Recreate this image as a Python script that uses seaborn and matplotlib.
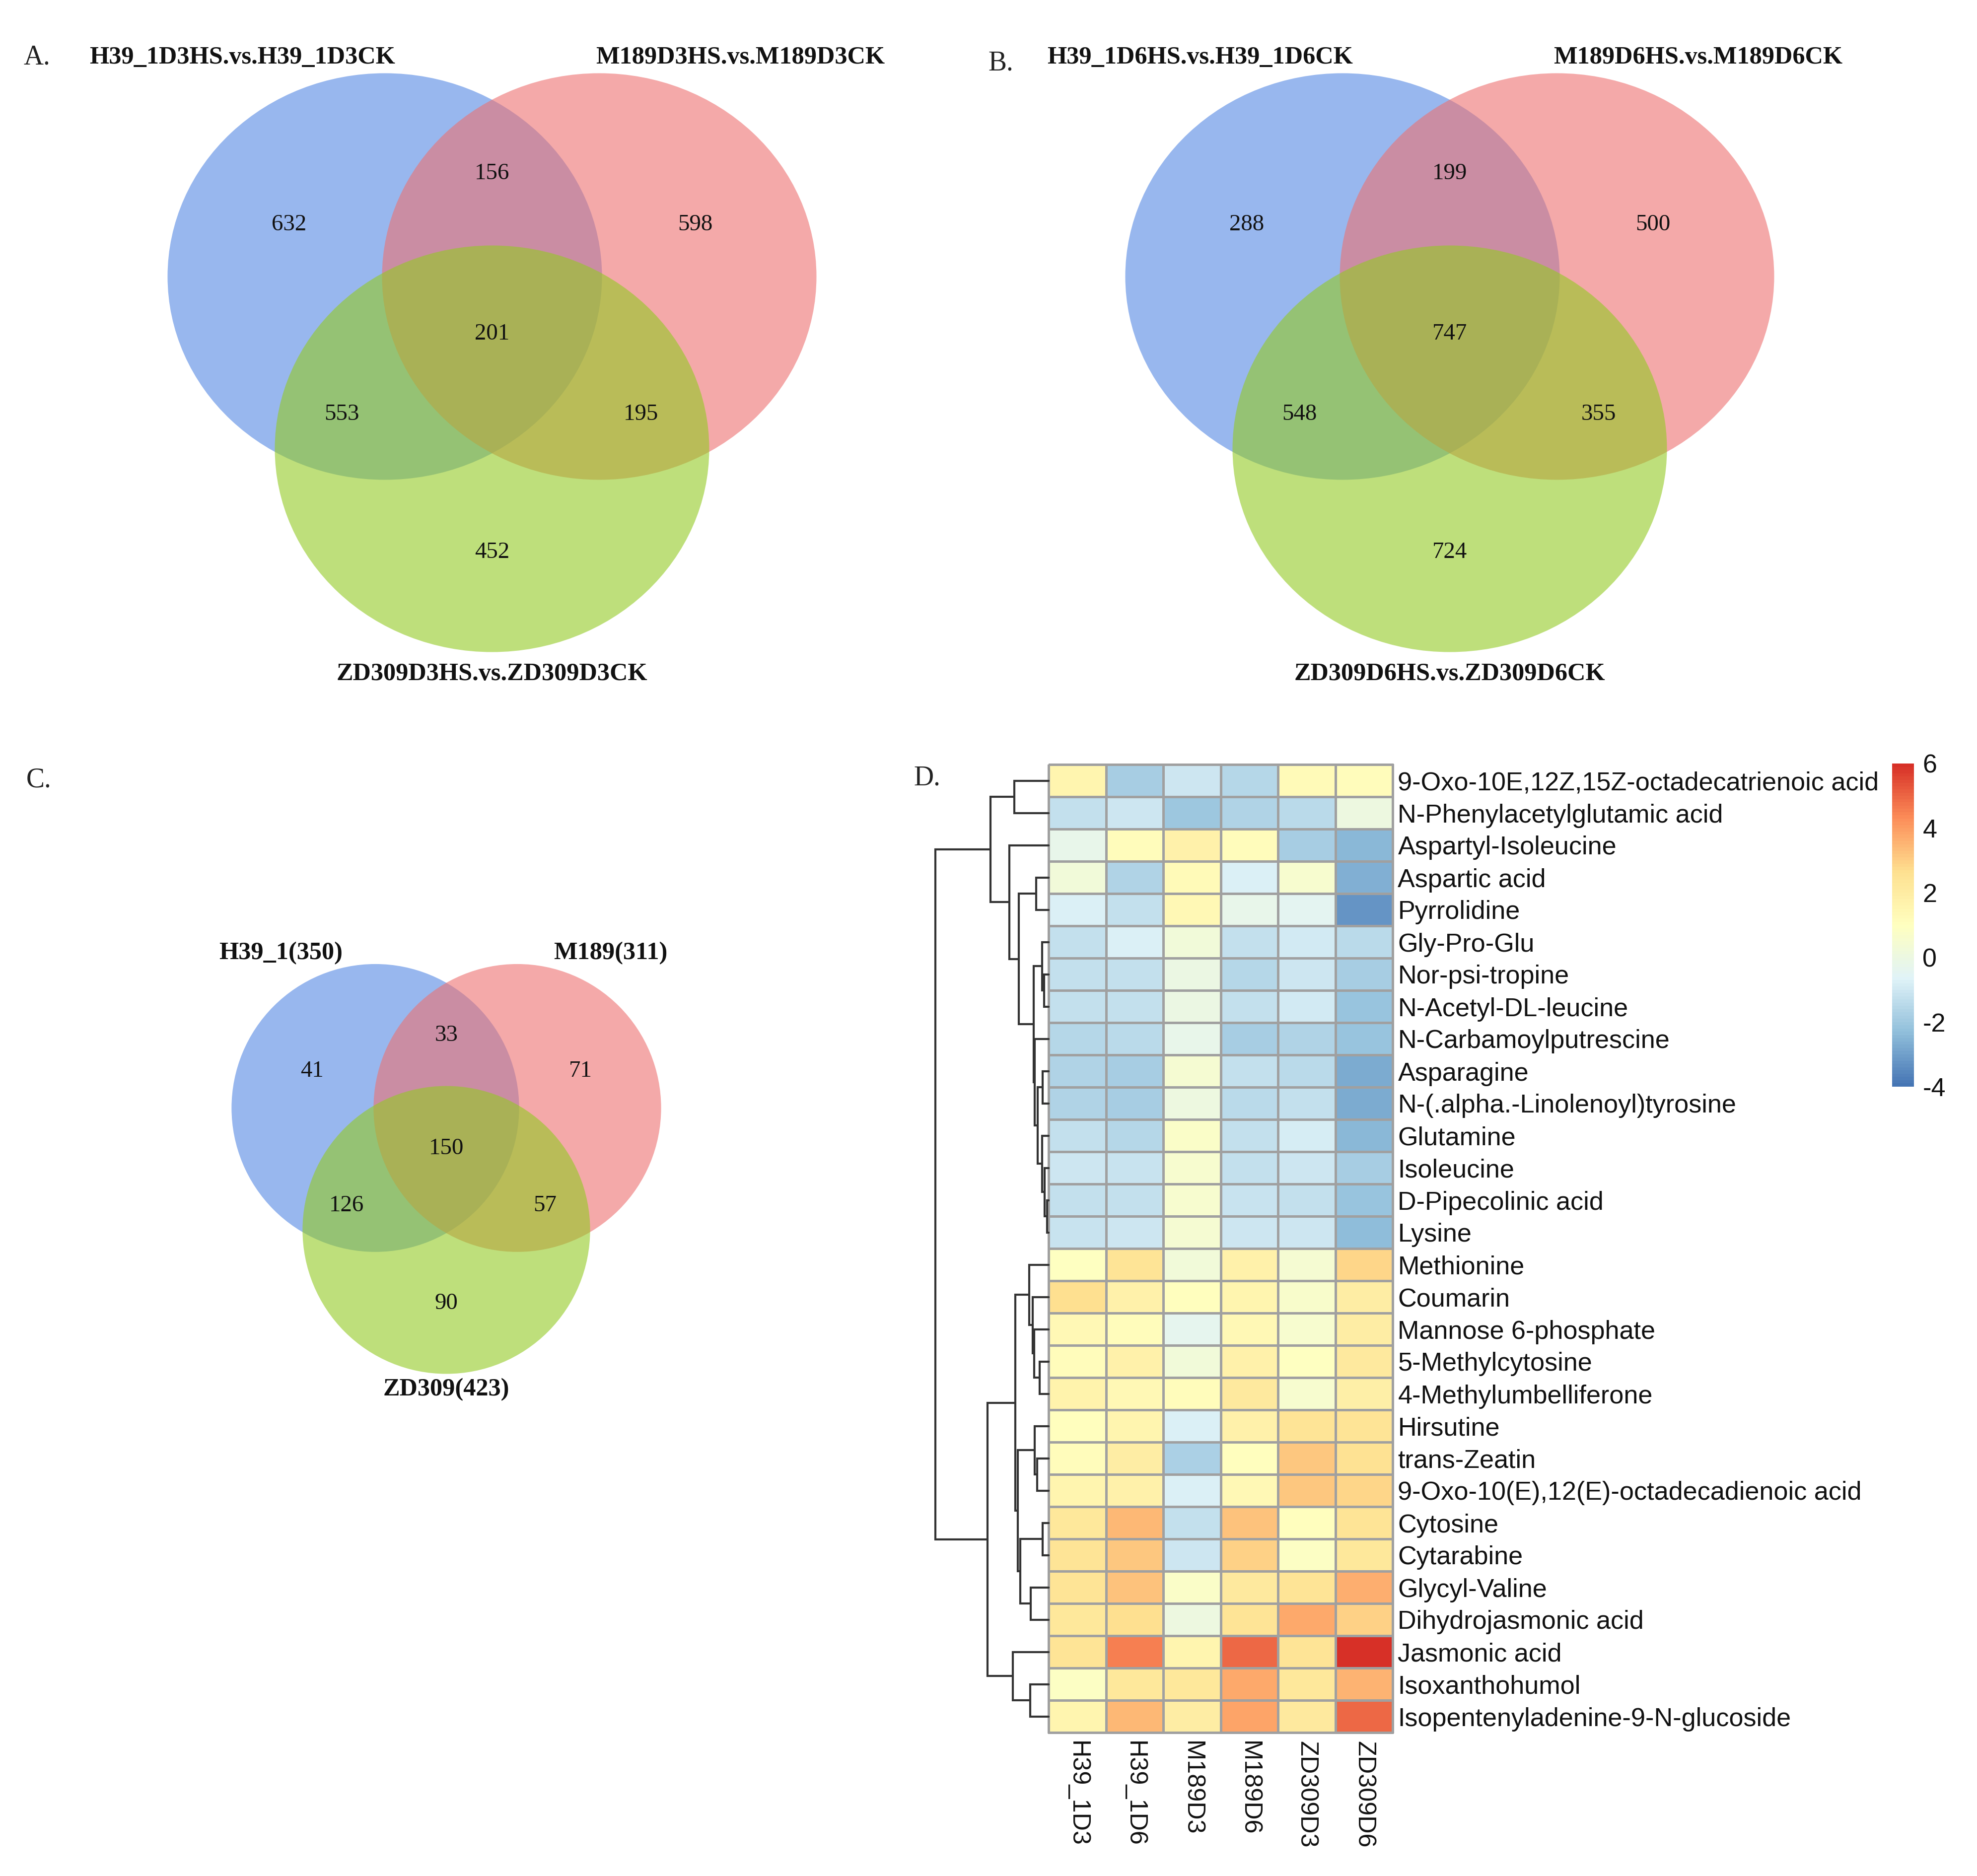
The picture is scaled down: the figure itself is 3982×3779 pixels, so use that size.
import numpy as np
import pandas as pd
import matplotlib
matplotlib.use("Agg")
import matplotlib.pyplot as plt
from matplotlib.patches import Ellipse
from matplotlib.colors import LinearSegmentedColormap
import seaborn as sns

W, H = 3982, 3779
DPI = 250

# ---- Venn data: counts in order [1 only, 1&2, 2 only, all, 1&3, 2&3, 3 only]
venn_a_names = ["H39_1D3HS.vs.H39_1D3CK", "M189D3HS.vs.M189D3CK", "ZD309D3HS.vs.ZD309D3CK"]
venn_a_counts = [632, 156, 598, 201, 553, 195, 452]
venn_b_names = ["H39_1D6HS.vs.H39_1D6CK", "M189D6HS.vs.M189D6CK", "ZD309D6HS.vs.ZD309D6CK"]
venn_b_counts = [288, 199, 500, 747, 548, 355, 724]
venn_c_names = ["H39_1(350)", "M189(311)", "ZD309(423)"]
venn_c_counts = [41, 33, 71, 150, 126, 57, 90]

# ---- heatmap data
metabolites = [
    "9-Oxo-10E,12Z,15Z-octadecatrienoic acid", "N-Phenylacetylglutamic acid",
    "Aspartyl-Isoleucine", "Aspartic acid", "Pyrrolidine", "Gly-Pro-Glu",
    "Nor-psi-tropine", "N-Acetyl-DL-leucine", "N-Carbamoylputrescine", "Asparagine",
    "N-(.alpha.-Linolenoyl)tyrosine", "Glutamine", "Isoleucine", "D-Pipecolinic acid",
    "Lysine", "Methionine", "Coumarin", "Mannose 6-phosphate", "5-Methylcytosine",
    "4-Methylumbelliferone", "Hirsutine", "trans-Zeatin",
    "9-Oxo-10(E),12(E)-octadecadienoic acid", "Cytosine", "Cytarabine",
    "Glycyl-Valine", "Dihydrojasmonic acid", "Jasmonic acid", "Isoxanthohumol",
    "Isopentenyladenine-9-N-glucoside",
]
samples = ["H39_1D3", "H39_1D6", "M189D3", "M189D6", "ZD309D3", "ZD309D6"]

h39_1d3 = [1.5, -1.23, -0.28, 0.27, -0.8, -1.3, -1.23, -1.23, -1.57, -1.68,
           -1.65, -1.3, -1.07, -1.23, -1.15, 0.9, 2.65, 1.3, 1.1, 1.65,
           1.05, 1.1, 1.5, 2.2, 2.4, 2.4, 2.25, 2.4, 0.85, 1.6]
h39_1d6 = [-1.9, -1.07, 1.1, -1.65, -1.23, -0.8, -1.3, -1.23, -1.5, -1.85,
           -1.88, -1.57, -1.15, -1.23, -1.07, 2.45, 1.8, 1.1, 1.7, 1.35,
           1.5, 1.95, 1.8, 3.47, 3.15, 3.2, 2.65, 4.5, 2.2, 3.45]
m189d3 = [-1.07, -2.02, 1.8, 1.2, 1.3, 0.27, -0.1, -0.1, -0.28, 0.45,
          0.03, 0.75, 0.5, 0.5, 0.4, 0.2, 1.05, -0.4, 0.22, 1.15,
          -0.8, -1.8, -0.8, -1.3, -1.07, 0.75, 0.05, 1.5, 2.25, 1.95]
m189d6 = [-1.57, -1.68, 1.1, -0.7, -0.28, -1.23, -1.57, -1.23, -1.9, -1.23,
          -1.45, -1.3, -1.23, -1.15, -1.07, 1.8, 1.5, 1.3, 1.7, 2.1,
          1.8, 1.05, 1.3, 3.2, 2.9, 2.1, 2.4, 4.9, 3.75, 3.8]
zd309d3 = [1.2, -1.47, -1.9, 0.5, -0.5, -1.0, -1.07, -1.0, -1.65, -1.5,
           -1.23, -0.9, -1.07, -1.3, -1.07, 0.45, 0.6, 0.5, 0.9, 0.5,
           2.45, 3.1, 3.1, 1.05, 0.8, 2.45, 3.7, 2.4, 2.25, 2.1]
zd309d6 = [1.15, 0.03, -2.45, -2.62, -3.2, -1.5, -1.85, -2.2, -2.2, -2.7,
           -2.75, -2.5, -1.9, -2.2, -2.35, 2.85, 1.95, 1.9, 2.1, 1.85,
           2.45, 2.6, 2.8, 2.45, 2.25, 3.67, 2.95, 6.0, 3.5, 4.9]

# row dendrogram: (height, left, right), leaves are row indices
row_tree = (228,
            (117, (69, 0, 1),
             (79, 2, (60, (25, 3, 4),
                      (30, (13, 5, (9, 6, 7)),
                       (28, 8, (22, (12, 9, 10),
                                (13, 11, (8, 12, (3, 13, 14))))))))),
            (123,
             (67, (39, 15, (32, 16, (29, 17, (18, 18, 19)))),
              (62, (28, 20, (23, 21, 22)),
               (57, (12, 23, 24), (36, 25, 26)))),
             (72, 27, (37, 28, 29))))

# ---- style
sns.set_style("white")
plt.rcParams["axes.unicode_minus"] = False
SANS = ["Liberation Sans", "DejaVu Sans"]
SERIF = ["Liberation Serif", "DejaVu Serif"]
plt.rcParams["font.family"] = SANS

venn_colors = ["#5387E3", "#ED7171", "#93CA23"]
# venn template geometry (px of panel A)
ell_w, ell_h = 875, 819
set_offsets = [(-216, -116), (216, -116), (0, 231)]
count_offsets = [(-409, -220), (0, -323), (409, -220), (0, 0), (-303, 162), (300, 162), (0, 440)]
title_offsets = [(-503, -557), (500, -557), (0, 685)]

fig = plt.figure(figsize=(W / DPI, H / DPI), dpi=DPI)
bg = fig.add_axes([0, 0, 1, 1])
bg.set_xlim(0, W)
bg.set_ylim(H, 0)
bg.axis("off")


def draw_venn(ax, ox, oy, sx, sy, names, counts):
    for (dx, dy), col in zip(set_offsets, venn_colors):
        ax.add_patch(Ellipse((ox + dx * sx, oy + dy * sy), ell_w * sx, ell_h * sy,
                             facecolor=col, edgecolor="none", alpha=0.6))
    for (dx, dy), n in zip(count_offsets, counts):
        ax.text(ox + dx * sx, oy + dy * sy, str(n), ha="center", va="center",
                fontsize=13.5, family=SERIF, color="#111111")
    for (dx, dy), name in zip(title_offsets, names):
        ax.text(ox + dx * sx, oy + dy * sy, name, ha="center", va="center",
                fontsize=14.5, fontweight="bold", family=SERIF, color="#111111")


draw_venn(bg, 991, 673, 1, 1, venn_a_names, venn_a_counts)
draw_venn(bg, 2920, 673, 1, 1, venn_b_names, venn_b_counts)
draw_venn(bg, 899, 2314, 0.662, 0.708, venn_c_names, venn_c_counts)

for lab, x, y in [("A.", 48, 116), ("B.", 1990, 128), ("C.", 53, 1571), ("D.", 1840, 1568)]:
    bg.text(x, y, lab, ha="left", va="center", fontsize=16, family=SERIF, color="#222222")

# ---- heatmap panel D
df = pd.DataFrame({"H39_1D3": h39_1d3, "H39_1D6": h39_1d6, "M189D3": m189d3,
                   "M189D6": m189d6, "ZD309D3": zd309d3, "ZD309D6": zd309d6},
                  index=metabolites)[samples]

cmap = LinearSegmentedColormap.from_list(
    "pheat", ["#4575B4", "#91BFDB", "#E0F3F8", "#FFFFBF", "#FEE090", "#FC8D59", "#D73027"], N=100)

hm_left, hm_right, hm_top, hm_bot = 2112, 2805, 1540, 3490
ax_hm = fig.add_axes([hm_left / W, 1 - hm_bot / H, (hm_right - hm_left) / W, (hm_bot - hm_top) / H])
ax_cb = fig.add_axes([3811 / W, 1 - 2189 / H, 44 / W, 651 / H])
ax_dn = fig.add_axes([1884 / W, 1 - hm_bot / H, (hm_left - 1884) / W, (hm_bot - hm_top) / H])

sns.heatmap(df, ax=ax_hm, cmap=cmap, vmin=-4, vmax=6, linewidths=1.0,
            linecolor="#a0a0a0", cbar_ax=ax_cb, xticklabels=True, yticklabels=True)
ax_hm.collections[0].set_clip_on(False)
ax_hm.set_xlabel("")
ax_hm.set_ylabel("")
ax_hm.yaxis.tick_right()
ax_hm.set_yticks(np.arange(len(metabolites)) + 0.5)
ax_hm.set_yticklabels(metabolites, rotation=0, fontsize=15, ha="left", color="#111111")
ax_hm.set_xticklabels(samples, rotation=-90, fontsize=14.5, ha="center", va="top", color="#111111")
ax_hm.tick_params(axis="y", length=0, pad=3)
ax_hm.tick_params(axis="x", length=0, pad=5)

cb = ax_hm.collections[0].colorbar
cb.set_ticks([-4, -2, 0, 2, 4, 6])
cb.outline.set_visible(False)
cb.ax.tick_params(length=0, labelsize=15, pad=5, labelcolor="#111111")


def draw_tree(ax, node):
    if isinstance(node, int):
        return node + 0.5, 0.0
    h, left, right = node
    y1, h1 = draw_tree(ax, left)
    y2, h2 = draw_tree(ax, right)
    ax.plot([h1, h, h, h2], [y1, y1, y2, y2], color="#333333", lw=1.2,
            solid_joinstyle="miter", clip_on=False)
    return (y1 + y2) / 2, h


draw_tree(ax_dn, row_tree)
ax_dn.set_xlim(row_tree[0], 0)
ax_dn.set_ylim(len(metabolites), 0)
ax_dn.axis("off")

fig.savefig("out.png", dpi=DPI, facecolor="white")
